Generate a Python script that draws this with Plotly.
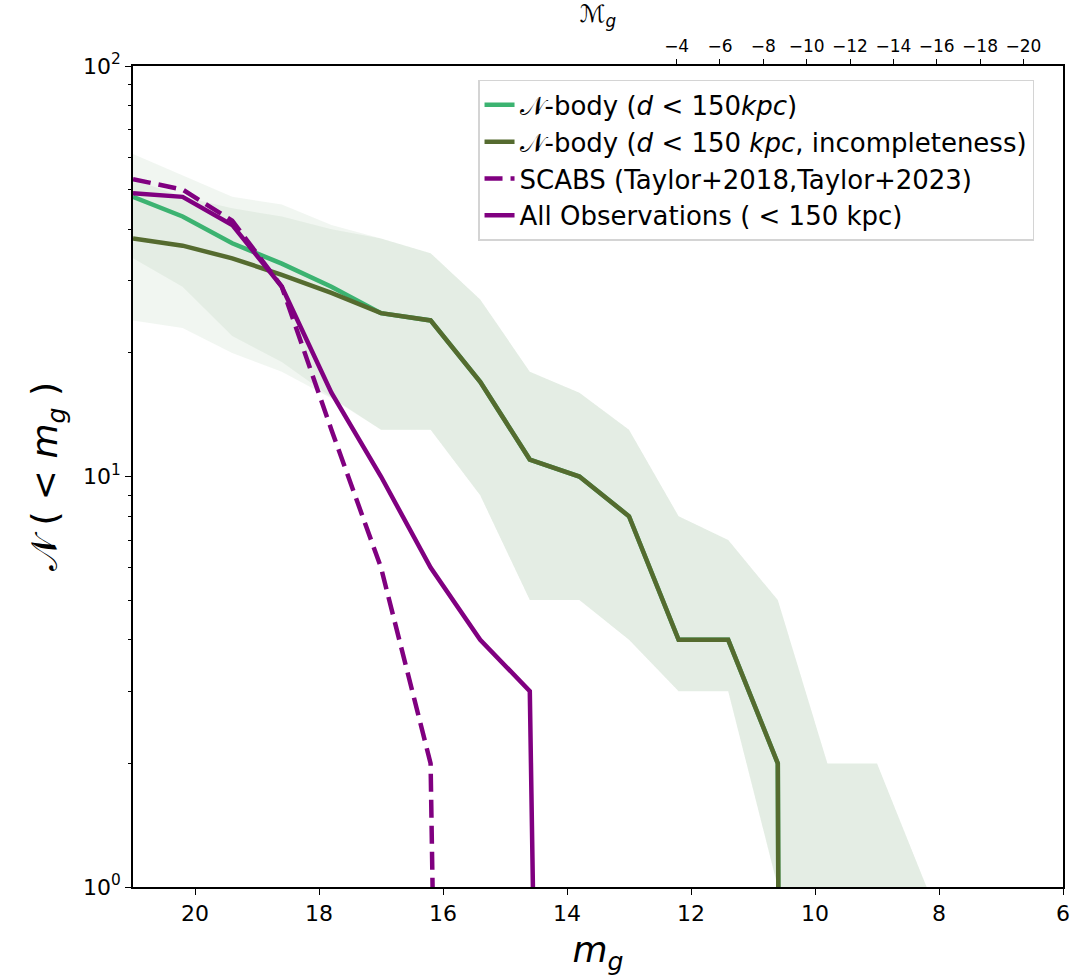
import plotly.graph_objects as go

# Apparent g-band magnitude bins (cumulative counts brighter than m_g)
m_g = [21.0, 20.2, 19.4, 18.6, 17.8, 17.0, 16.2, 15.4, 14.6, 13.8, 13.0, 12.2, 11.4, 10.6, 9.8, 9.0, 8.2]

# N-body satellites within 150 kpc: median and spread
nbody_med = [48, 43, 37, 33, 29, 25, 24, 17, 11, 10, 8, 4, 4, 2, 0, 0, 0]
nbody_hi = [61, 54, 48, 46, 41, 38, 35, 27, 18, 16, 13, 8, 7, 5, 2, 2, 1]
nbody_lo = [34, 29, 22, 19, 15.6, 13, 13, 9, 5, 5, 4, 3, 3, 1, 1, 1, 1]

# N-body satellites with observational incompleteness applied
nbody_inc_med = [38, 36.5, 34, 31, 28, 25, 24, 17, 11, 10, 8, 4, 4, 2, 0, 0, 0]
nbody_inc_hi = [53, 48, 45, 43, 40, 38, 35, 27, 18, 16, 13, 8, 7, 5, 2, 2, 1]
nbody_inc_lo = [24, 23, 20, 18, 15.5, 13, 13, 9, 5, 5, 4, 3, 3, 1, 1, 1, 1]

# Observed satellites
scabs = [53, 50, 42, 29, 13, 6, 2, 0, 0, 0, 0, 0, 0, 0, 0, 0, 0]
all_obs = [49, 48, 41, 29, 16, 10, 6, 4, 3, 0, 0, 0, 0, 0, 0, 0, 0]

# Axis ticks
x_ticks = [20, 18, 16, 14, 12, 10, 8, 6]
abs_ticks = [-4, -6, -8, -10, -12, -14, -16, -18, -20]
y_ticks = [1, 10, 100]
y_ticktext = ["10<sup>0</sup>", "10<sup>1</sup>", "10<sup>2</sup>"]
y_minor = [2, 3, 4, 5, 6, 7, 8, 9, 20, 30, 40, 50, 60, 70, 80, 90]

FONT = "DejaVu Sans"
GREEN = "#3cb371"
OLIVE = "#556b2f"
PURPLE = "#800080"
BAND = "rgba(100,160,100,0.09)"


def on_log(vals, floor=1e-30):
    # empty bins sit far below the visible log range, like a clipped log plot
    return [v if v > 0 else floor for v in vals]


fig = go.Figure()

for hi, lo in ((nbody_hi, nbody_lo), (nbody_inc_hi, nbody_inc_lo)):
    fig.add_trace(go.Scatter(
        x=m_g + m_g[::-1], y=hi + lo[::-1], fill="toself", fillcolor=BAND,
        line=dict(width=0), mode="lines", showlegend=False, hoverinfo="skip"))

fig.add_trace(go.Scatter(
    x=m_g, y=on_log(nbody_med), mode="lines", line=dict(color=GREEN, width=4.5),
    name="𝒩-body (<i>d</i> < 150<i>kpc</i>)"))
fig.add_trace(go.Scatter(
    x=m_g, y=on_log(nbody_inc_med), mode="lines", line=dict(color=OLIVE, width=4.5),
    name="𝒩-body (<i>d</i> < 150 <i>kpc</i>, incompleteness)"))
fig.add_trace(go.Scatter(
    x=m_g, y=on_log(scabs), mode="lines",
    line=dict(color=PURPLE, width=4.5, dash="18px,8px"),
    name="SCABS (Taylor+2018,Taylor+2023)"))
fig.add_trace(go.Scatter(
    x=m_g, y=on_log(all_obs), mode="lines", line=dict(color=PURPLE, width=4.5),
    name="All Observations ( < 150 kpc)"))

# empty trace that carries the absolute-magnitude axis on top
fig.add_trace(go.Scatter(x=[], y=[], xaxis="x2", showlegend=False))

fig.update_layout(
    width=1073, height=980,
    margin=dict(l=133, r=10, t=66, b=93, autoexpand=False),
    plot_bgcolor="white", paper_bgcolor="white",
    font=dict(family=FONT, color="black"),
    showlegend=True,
    legend=dict(
        x=0.371, y=0.983, xanchor="left", yanchor="top",
        bgcolor="rgba(255,255,255,0.8)", bordercolor="#d4d4d4", borderwidth=1.5,
        font=dict(family=FONT, size=26), tracegroupgap=0),
    xaxis=dict(
        range=[21, 6], tickmode="array", tickvals=x_ticks, automargin=False,
        ticks="outside", ticklen=6, tickwidth=1.2, tickcolor="black",
        showline=True, linecolor="black", linewidth=1.5, mirror=True,
        showgrid=False, zeroline=False,
        tickfont=dict(family=FONT, size=22),
        title=dict(text="<i>m<sub>g</sub></i>", font=dict(family=FONT, size=36), standoff=12)),
    xaxis2=dict(
        overlaying="x", side="top", anchor="y", automargin=False,
        range=[21.09, -21.83], tickmode="array", tickvals=abs_ticks,
        ticktext=["−" + str(abs(t)) for t in abs_ticks],
        ticks="outside", ticklen=6, tickwidth=1.2, tickcolor="black",
        showline=False, showgrid=False, zeroline=False,
        tickfont=dict(family=FONT, size=17),
        title=dict(text="ℳ<sub><i>g</i></sub>", font=dict(family=FONT, size=24), standoff=6)),
    yaxis=dict(
        type="log", range=[0, 2], tickmode="array", tickvals=y_ticks, ticktext=y_ticktext,
        automargin=False,
        ticks="outside", ticklen=6, tickwidth=1.2, tickcolor="black",
        minor=dict(tickvals=y_minor, ticks="outside", ticklen=3.5, tickwidth=1, tickcolor="black"),
        showline=True, linecolor="black", linewidth=1.5, mirror=True,
        showgrid=False, zeroline=False,
        tickfont=dict(family=FONT, size=22),
        title=dict(text="𝒩 ( < <i>m<sub>g</sub></i> )", font=dict(family=FONT, size=36), standoff=14)),
)

fig.write_html("out.html")
